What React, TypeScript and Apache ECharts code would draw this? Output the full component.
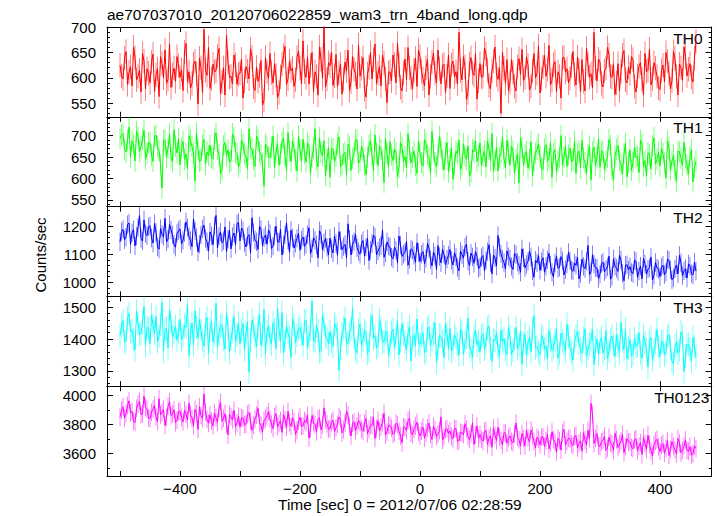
import React, { useEffect, useRef } from "react";
import * as echarts from "echarts";

const TITLE = "ae707037010_20120706022859_wam3_trn_4band_long.qdp";
const X_NAME = "Time [sec] 0 = 2012/07/06 02:28:59";
const Y_NAME = "Counts/sec";

// time bins (sec from 2012/07/06 02:28:59): "A" bins start at -500 s, "B" bins at -497.5 s, both every 5 s
const TIME_START_A = -500;
const TIME_START_B = -497.5;
const TIME_STEP = 5;

const th0A = [
  625, 598, 652, 611, 584, 640, 603, 572, 633, 618,
  590, 647, 606, 563, 628, 655, 597, 581, 619, 642,
  601, 575, 668, 612, 589, 633, 548, 620, 696, 605,
  579, 627, 614, 658, 592, 566, 631, 603, 645, 587,
  609, 560, 622, 598, 641, 575, 593, 634, 556, 612,
  648, 590, 605, 571, 627, 662, 598, 614, 583, 640,
  619, 673, 601, 588, 650, 612, 566, 637, 702, 597,
  624, 585, 646, 610, 568, 631, 655, 592, 617, 578,
  603, 640, 562, 621, 598, 667, 609, 584, 629, 551,
  612, 645, 590, 626, 574, 637, 660, 600, 615, 583,
  642, 598, 620, 566, 631, 609, 655, 588, 627, 604,
  579, 633, 612, 690, 596, 622, 571, 640, 605, 558,
  628, 603, 647, 585, 614, 661, 597, 530, 619, 636,
  592, 611, 574, 638, 656, 601, 625, 583, 648, 609,
  570, 621, 603, 664, 595, 632, 612, 560, 641, 618,
  599, 652, 586, 615, 636, 574, 627, 608, 690, 594,
  631, 582, 619, 645, 601, 567, 628, 613, 654, 590,
  608, 636, 572, 623, 597, 648, 615, 586, 630, 603,
  577, 625, 650, 609, 594, 638, 566, 620, 661, 604,
  628, 592, 672,
];
const th0B = [
  604, 639, 587, 622, 661, 596, 615, 648, 578, 609,
  631, 573, 618, 642, 600, 589, 667, 606, 593, 624,
  616, 651, 593, 580, 627, 608, 639, 571, 615, 660,
  598, 612, 643, 569, 620, 684, 601, 588, 626, 607,
  637, 594, 613, 657, 582, 621, 605, 546, 640, 599,
  610, 628, 561, 602, 644, 587, 633, 619, 596, 653,
  588, 612, 641, 624, 573, 603, 661, 599, 582, 630,
  651, 604, 582, 627, 597, 614, 575, 642, 608, 665,
  619, 577, 608, 650, 636, 589, 622, 645, 598, 610,
  594, 626, 668, 581, 609, 596, 620, 578, 639, 655,
  613, 584, 637, 603, 649, 590, 618, 624, 571, 645,
  626, 602, 588, 614, 642, 557, 627, 610, 648, 594,
  601, 659, 615, 578, 633, 606, 620, 651, 589, 574,
  636, 583, 622, 607, 595, 641, 576, 614, 600, 663,
  598, 645, 617, 586, 626, 573, 603, 639, 611, 590,
  624, 606, 641, 572, 593, 658, 601, 580, 619, 637,
  589, 614, 660, 603, 628, 590, 575, 645, 596, 621,
  642, 583, 604, 630, 566, 612, 657, 598, 619, 580,
  614, 592, 633, 578, 652, 603, 627, 595, 642, 617,
  601, 639,
];

const th1A = [
  693, 705, 662, 720, 688, 641, 697, 674, 712, 659,
  683, 640, 701, 665, 578, 690, 671, 648, 714, 660,
  632, 686, 657, 700, 675, 594, 668, 643, 691, 662,
  678, 645, 707, 656, 620, 684, 667, 641, 695, 658,
  637, 680, 652, 716, 669, 628, 690, 655, 582, 674,
  648, 699, 663, 631, 685, 654, 707, 640, 672, 617,
  666, 692, 639, 675, 650, 716, 627, 661, 688, 644,
  603, 670, 652, 697, 633, 661, 680, 619, 658, 690,
  641, 664, 609, 678, 655, 702, 630, 667, 591, 659,
  686, 642, 660, 625, 673, 651, 705, 636, 664, 612,
  660, 629, 682, 648, 710, 637, 655, 671, 620, 684,
  645, 598, 664, 690, 632, 653, 676, 615, 662, 640,
  683, 652, 627, 669, 705, 641, 618, 660, 647, 690,
  631, 664, 644, 590, 672, 655, 624, 686, 640, 668,
  652, 621, 679, 646, 603, 667, 639, 700, 650, 628,
  671, 643, 612, 664, 689, 637, 655, 596, 673, 648,
  626, 662, 640, 691, 619, 653, 677, 634, 658, 604,
  667, 638, 649, 614, 680, 642, 660, 622, 695, 645,
  629, 658, 601, 672, 640, 618, 664, 647, 685, 632,
  651, 592, 640,
];
const th1B = [
  701, 668, 690, 651, 679, 710, 663, 692, 645, 684,
  655, 699, 674, 632, 688, 650, 704, 639, 676, 693,
  671, 645, 622, 689, 658, 706, 640, 679, 633, 654,
  649, 692, 669, 611, 676, 653, 638, 704, 661, 627,
  690, 658, 623, 671, 645, 699, 662, 634, 680, 651,
  672, 625, 681, 657, 694, 619, 665, 688, 643, 699,
  640, 658, 683, 612, 670, 644, 695, 653, 607, 672,
  668, 639, 682, 628, 657, 609, 673, 647, 690, 636,
  675, 631, 650, 689, 618, 660, 676, 642, 694, 627,
  655, 669, 604, 684, 640, 625, 668, 650, 631, 688,
  637, 691, 654, 612, 666, 628, 698, 643, 660, 615,
  672, 633, 658, 620, 681, 645, 606, 667, 689, 653,
  630, 664, 688, 641, 619, 673, 650, 697, 625, 661,
  676, 612, 657, 694, 632, 663, 644, 606, 659, 681,
  623, 669, 640, 684, 659, 617, 650, 631, 674, 655,
  639, 687, 658, 625, 648, 611, 676, 662, 630, 693,
  664, 621, 650, 676, 597, 668, 643, 610, 682, 637,
  619, 673, 652, 690, 628, 606, 655, 677, 634, 661,
  670, 636, 688, 620, 655, 593, 662, 631, 649, 610,
  668, 626,
];

const th2A = [
  1145, 1190, 1162, 1213, 1178, 1131, 1196, 1157, 1224, 1168,
  1203, 1141, 1180, 1119, 1172, 1230, 1155, 1188, 1136, 1176,
  1192, 1150, 1217, 1163, 1128, 1184, 1109, 1170, 1205, 1146,
  1181, 1135, 1240, 1166, 1142, 1199, 1155, 1120, 1177, 1210,
  1149, 1186, 1127, 1171, 1232, 1153, 1118, 1190, 1160, 1137,
  1175, 1130, 1202, 1144, 1098, 1169, 1151, 1187, 1123, 1158,
  1115, 1163, 1137, 1196, 1121, 1150, 1088, 1172, 1143, 1126,
  1159, 1105, 1140, 1182, 1117, 1136, 1210, 1098, 1146, 1124,
  1101, 1150, 1126, 1078, 1139, 1163, 1112, 1131, 1090, 1145,
  1127, 1084, 1115, 1166, 1093, 1108, 1061, 1120, 1097, 1142,
  1074, 1110, 1086, 1123, 1059, 1095, 1132, 1070, 1101, 1083,
  1118, 1062, 1090, 1041, 1099, 1127, 1076, 1105, 1068, 1093,
  1055, 1096, 1079, 1135, 1030, 1087, 1168, 1102, 1071, 1113,
  1084, 1046, 1099, 1061, 1120, 1052, 1075, 1091, 1018, 1070,
  1043, 1088, 1057, 1104, 1035, 1069, 1050, 1092, 1026, 1066,
  1078, 1040, 1061, 1012, 1083, 1049, 1132, 1037, 1065, 1051,
  1029, 1072, 1046, 1094, 1021, 1058, 1039, 1080, 1005, 1063,
  1056, 1031, 1075, 1040, 1012, 1066, 1047, 1090, 1025, 1051,
  1020, 1061, 1036, 1079, 1009, 1048, 1030, 1070, 1041, 1015,
  1058, 1026, 1040,
];
const th2B = [
  1182, 1153, 1207, 1136, 1189, 1166, 1240, 1148, 1175, 1199,
  1159, 1211, 1127, 1193, 1164, 1145, 1208, 1170, 1126, 1185,
  1138, 1179, 1196, 1150, 1228, 1161, 1137, 1192, 1157, 1112,
  1167, 1202, 1123, 1181, 1150, 1110, 1187, 1164, 1135, 1215,
  1195, 1141, 1164, 1105, 1178, 1145, 1201, 1132, 1170, 1188,
  1121, 1166, 1145, 1190, 1135, 1214, 1108, 1159, 1140, 1176,
  1152, 1129, 1171, 1103, 1160, 1135, 1185, 1116, 1157, 1098,
  1120, 1165, 1097, 1150, 1128, 1088, 1155, 1137, 1173, 1110,
  1138, 1094, 1157, 1115, 1169, 1098, 1125, 1188, 1105, 1130,
  1090, 1126, 1070, 1134, 1101, 1147, 1082, 1115, 1072, 1108,
  1101, 1066, 1140, 1081, 1109, 1046, 1092, 1118, 1062, 1097,
  1078, 1106, 1053, 1112, 1086, 1136, 1059, 1091, 1110, 1049,
  1089, 1041, 1110, 1070, 1098, 1058, 1125, 1083, 1048, 1092,
  1057, 1103, 1072, 1036, 1088, 1064, 1111, 1041, 1079, 1096,
  1074, 1036, 1081, 1062, 1019, 1093, 1054, 1077, 1045, 1107,
  1044, 1069, 1090, 1031, 1057, 1075, 1028, 1099, 1052, 1013,
  1067, 1038, 1055, 1011, 1084, 1050, 1097, 1032, 1061, 1044,
  1035, 1079, 1018, 1058, 1086, 1029, 1052, 1008, 1071, 1046,
  1054, 1027, 1083, 1045, 1016, 1062, 1097, 1023, 1049, 1066,
  1031, 1072,
];

const th3A = [
  1412, 1458, 1395, 1481, 1427, 1366, 1449, 1418, 1502, 1437,
  1385, 1443, 1470, 1409, 1516, 1430, 1372, 1455, 1421, 1396,
  1462, 1410, 1437, 1348, 1450, 1489, 1403, 1426, 1378, 1468,
  1430, 1391, 1512, 1417, 1445, 1368, 1436, 1400, 1471, 1414,
  1385, 1448, 1421, 1296, 1460, 1409, 1437, 1380, 1493, 1424,
  1402, 1451, 1370, 1429, 1483, 1395, 1418, 1342, 1445, 1410,
  1437, 1381, 1459, 1406, 1520, 1392, 1426, 1364, 1448, 1401,
  1423, 1377, 1440, 1301, 1415, 1466, 1389, 1432, 1405, 1357,
  1448, 1398, 1419, 1363, 1474, 1411, 1380, 1436, 1392, 1425,
  1376, 1431, 1405, 1350, 1447, 1390, 1418, 1331, 1412, 1463,
  1384, 1420, 1362, 1438, 1399, 1451, 1371, 1408, 1342, 1416,
  1433, 1375, 1402, 1349, 1421, 1392, 1466, 1366, 1410, 1381,
  1359, 1417, 1388, 1441, 1330, 1395, 1373, 1428, 1401, 1352,
  1409, 1366, 1437, 1382, 1321, 1415, 1390, 1359, 1474, 1377,
  1351, 1403, 1379, 1426, 1364, 1396, 1340, 1418, 1385, 1447,
  1372, 1334, 1410, 1388, 1356, 1432, 1369, 1398, 1319, 1401,
  1391, 1355, 1427, 1362, 1409, 1346, 1380, 1453, 1367, 1338,
  1398, 1351, 1376, 1420, 1340, 1389, 1312, 1405, 1364, 1431,
  1345, 1392, 1361, 1414, 1330, 1377, 1356, 1423, 1298, 1383,
  1369, 1405, 1342,
];
const th3B = [
  1441, 1389, 1466, 1424, 1398, 1487, 1415, 1452, 1380, 1433,
  1476, 1417, 1392, 1445, 1361, 1434, 1491, 1406, 1440, 1422,
  1397, 1443, 1509, 1415, 1382, 1438, 1463, 1395, 1447, 1356,
  1455, 1418, 1374, 1440, 1399, 1483, 1359, 1428, 1392, 1450,
  1427, 1365, 1452, 1398, 1436, 1375, 1479, 1412, 1353, 1441,
  1384, 1427, 1498, 1393, 1356, 1440, 1403, 1465, 1388, 1431,
  1415, 1456, 1373, 1430, 1398, 1442, 1359, 1476, 1410, 1385,
  1392, 1448, 1415, 1370, 1436, 1383, 1420, 1497, 1366, 1429,
  1380, 1427, 1355, 1445, 1402, 1372, 1461, 1391, 1418, 1349,
  1421, 1372, 1458, 1394, 1417, 1366, 1440, 1404, 1379, 1386,
  1409, 1357, 1433, 1380, 1418, 1326, 1412, 1391, 1448, 1370,
  1362, 1414, 1384, 1432, 1353, 1405, 1377, 1343, 1428, 1395,
  1410, 1368, 1435, 1371, 1398, 1420, 1344, 1393, 1366, 1437,
  1351, 1398, 1369, 1426, 1387, 1346, 1405, 1431, 1372, 1360,
  1412, 1369, 1338, 1397, 1375, 1430, 1356, 1394, 1362, 1409,
  1357, 1393, 1425, 1367, 1402, 1345, 1383, 1430, 1374, 1352,
  1406, 1370, 1339, 1397, 1381, 1415, 1357, 1395, 1432, 1372,
  1346, 1403, 1381, 1357, 1412, 1368, 1393, 1336, 1388, 1376,
  1392, 1350, 1408, 1372, 1322, 1391, 1365, 1409, 1347, 1384,
  1330, 1376,
];

const th0123A = [
  3850, 3921, 3874, 3962, 3889, 3812, 3940, 3866, 3995, 3903,
  3838, 3905, 3851, 3976, 3880, 3793, 3924, 3860, 3901, 3828,
  3889, 3817, 3870, 3946, 3842, 3903, 3765, 3861, 4010, 3834,
  3866, 3790, 3845, 3911, 3821, 3873, 3727, 3852, 3898, 3810,
  3780, 3842, 3801, 3880, 3758, 3836, 3910, 3795, 3827, 3859,
  3836, 3771, 3874, 3805, 3744, 3831, 3890, 3786, 3819, 3760,
  3848, 3789, 3813, 3705, 3860, 3797, 3835, 3762, 3914, 3803,
  3770, 3829, 3776, 3851, 3741, 3806, 3862, 3720, 3818, 3789,
  3811, 3753, 3840, 3767, 3795, 3702, 3826, 3781, 3876, 3748,
  3790, 3731, 3808, 3752, 3673, 3779, 3825, 3740, 3766, 3815,
  3720, 3781, 3742, 3809, 3694, 3760, 3733, 3852, 3715, 3770,
  3755, 3701, 3769, 3688, 3742, 3804, 3716, 3736, 3662, 3790,
  3731, 3684, 3758, 3705, 3642, 3726, 3781, 3690, 3744, 3669,
  3720, 3673, 3810, 3695, 3737, 3651, 3706, 3762, 3682, 3711,
  3659, 3714, 3690, 3631, 3748, 3677, 3703, 3622, 3765, 3684,
  3702, 3655, 3724, 3670, 3615, 3693, 3759, 3945, 3668, 3736,
  3649, 3691, 3620, 3712, 3663, 3738, 3641, 3685, 3605, 3702,
  3679, 3633, 3701, 3650, 3592, 3668, 3725, 3618, 3660, 3697,
  3612, 3668, 3634, 3585, 3681, 3625, 3702, 3603, 3650, 3619,
  3646, 3598, 3633,
];
const th0123B = [
  3897, 3843, 3930, 3878, 3822, 3911, 3958, 3871, 3917, 3845,
  3884, 3932, 3819, 3866, 3903, 3848, 3957, 3871, 3812, 3890,
  3847, 3898, 3830, 3866, 3790, 3875, 3921, 3841, 3884, 3808,
  3823, 3879, 3814, 3950, 3842, 3801, 3868, 3830, 3785, 3856,
  3846, 3799, 3870, 3825, 3793, 3864, 3812, 3748, 3841, 3887,
  3801, 3852, 3783, 3826, 3869, 3779, 3812, 3845, 3731, 3822,
  3787, 3826, 3862, 3770, 3812, 3749, 3845, 3798, 3831, 3768,
  3812, 3751, 3800, 3835, 3764, 3890, 3785, 3808, 3757, 3826,
  3766, 3808, 3735, 3792, 3851, 3770, 3755, 3813, 3726, 3795,
  3773, 3742, 3798, 3719, 3781, 3757, 3843, 3728, 3789, 3746,
  3753, 3705, 3774, 3729, 3787, 3716, 3758, 3691, 3764, 3735,
  3716, 3772, 3683, 3745, 3729, 3768, 3695, 3811, 3724, 3703,
  3698, 3751, 3662, 3720, 3775, 3689, 3713, 3659, 3738, 3706,
  3681, 3734, 3711, 3650, 3703, 3759, 3677, 3724, 3638, 3696,
  3711, 3648, 3730, 3672, 3694, 3609, 3688, 3741, 3657, 3703,
  3664, 3716, 3637, 3688, 3742, 3659, 3700, 3870, 3702, 3651,
  3680, 3718, 3635, 3672, 3620, 3694, 3662, 3731, 3648, 3679,
  3641, 3692, 3618, 3674, 3709, 3628, 3662, 3583, 3684, 3645,
  3657, 3601, 3689, 3628, 3648, 3596, 3671, 3622, 3692, 3615,
  3588, 3652,
];

const bandNames = ["TH0", "TH1", "TH2", "TH3", "TH0123"];
const bandValuesA = [th0A, th1A, th2A, th3A, th0123A];
const bandValuesB = [th0B, th1B, th2B, th3B, th0123B];
const bandErrors = [24, 25, 33, 37, 61];
const bandColors = ["#ff0000", "#00ff00", "#0000ff", "#00ffff", "#ff00ff"];
const bandErrColors = [
  "rgba(255,0,0,0.5)",
  "rgba(0,255,0,0.5)",
  "rgba(0,0,255,0.5)",
  "rgba(0,255,255,0.5)",
  "rgba(255,0,255,0.5)",
];
const yMins = [523, 534.5, 949, 1252, 3444];
const yMaxs = [700.5, 744, 1272, 1534, 4063];
const yLabelValues = [
  [550, 600, 650, 700],
  [550, 600, 650, 700],
  [1000, 1100, 1200],
  [1300, 1400, 1500],
  [3600, 3800, 4000],
];
const yMinorSteps = [10, 10, 20, 20, 100];
const xTickValues = [-500, -400, -300, -200, -100, 0, 100, 200, 300, 400];
const xLabelValues = [-400, -200, 0, 200, 400];
const X_MIN = -521.7;
const X_MAX = 486.2;

const FONT = "'Liberation Sans', Arial, Helvetica, sans-serif";

function buildSeriesData(a: number[], b: number[]) {
  const out: number[][] = [];
  for (let k = 0; k < a.length; k++) {
    out.push([TIME_START_A + k * TIME_STEP, a[k]]);
    if (k < b.length) out.push([TIME_START_B + k * TIME_STEP, b[k]]);
  }
  return out;
}

export default function App() {
  const ref = useRef<HTMLDivElement>(null);

  useEffect(() => {
    if (!ref.current) return;
    const chart = echarts.init(ref.current, undefined, { renderer: "svg" });

    const GRID_LEFT = 107;
    const GRID_RIGHT = 717 - 711.7;
    const TOP0 = 27;
    const PANEL_H = 89.8;

    const grids: any[] = [];
    const xAxes: any[] = [];
    const yAxes: any[] = [];
    const series: any[] = [];
    const graphics: any[] = [];
    const lineStyle = { color: "#000", width: 1 };

    bandNames.forEach((name, i) => {
      const top = TOP0 + i * PANEL_H;
      grids.push({
        left: GRID_LEFT,
        right: GRID_RIGHT,
        top,
        height: PANEL_H,
        outerBoundsMode: "none",
        containLabel: false,
      });
      const isLast = i === bandNames.length - 1;
      ["bottom", "top"].forEach((pos) => {
        xAxes.push({
          gridIndex: i,
          type: "value",
          position: pos,
          min: X_MIN,
          max: X_MAX,
          axisLine: { show: true, onZero: false, lineStyle },
          axisTick: {
            show: true,
            inside: true,
            length: 5,
            customValues: xTickValues,
            lineStyle,
          },
          axisLabel: {
            show: isLast && pos === "bottom",
            customValues: xLabelValues,
            margin: 5,
            fontSize: 15,
            fontFamily: FONT,
            color: "#000",
            formatter: (v: number) => String(v).replace("-", "\u2212"),
          },
          splitLine: { show: false },
        });
      });
      const minors: number[] = [];
      const st = yMinorSteps[i];
      for (let v = Math.ceil(yMins[i] / st) * st; v <= yMaxs[i]; v += st) {
        if (!yLabelValues[i].includes(v)) minors.push(v);
      }
      ["left", "right"].forEach((pos) => {
        yAxes.push({
          gridIndex: i,
          type: "value",
          position: pos,
          min: yMins[i],
          max: yMaxs[i],
          axisLine: { show: true, onZero: false, lineStyle },
          axisTick: {
            show: true,
            inside: true,
            length: 6,
            customValues: yLabelValues[i],
            lineStyle,
          },
          axisLabel: {
            show: pos === "left",
            customValues: yLabelValues[i],
            margin: 11,
            fontSize: 15,
            fontFamily: FONT,
            color: "#000",
            formatter: (v: number) => String(v),
          },
          splitLine: { show: false },
        });
        yAxes.push({
          gridIndex: i,
          type: "value",
          position: pos,
          min: yMins[i],
          max: yMaxs[i],
          axisLine: { show: false, onZero: false },
          axisTick: {
            show: true,
            inside: true,
            length: 3,
            customValues: minors,
            lineStyle,
          },
          axisLabel: { show: false },
          splitLine: { show: false },
        });
      });

      const data = buildSeriesData(bandValuesA[i], bandValuesB[i]);
      const err = bandErrors[i];
      const errColor = bandErrColors[i];
      series.push({
        type: "custom",
        xAxisIndex: i * 2,
        yAxisIndex: i * 4,
        clip: true,
        silent: true,
        z: 2,
        data,
        renderItem: (params: any, api: any) => {
          const x = api.value(0);
          const y = api.value(1);
          const p1 = api.coord([x, y - err]);
          const p2 = api.coord([x, y + err]);
          return {
            type: "line",
            shape: { x1: p1[0], y1: p1[1], x2: p2[0], y2: p2[1] },
            style: { stroke: errColor, lineWidth: 1 },
          };
        },
      });
      series.push({
        type: "line",
        xAxisIndex: i * 2,
        yAxisIndex: i * 4,
        data,
        showSymbol: false,
        symbol: "none",
        clip: true,
        silent: true,
        z: 3,
        lineStyle: { width: 1, color: bandColors[i] },
      });

      graphics.push({
        type: "text",
        right: isLast ? 717 - 709.3 : 717 - 702.5,
        top: top + 3,
        style: {
          text: name,
          font: `15.5px ${FONT}`,
          fill: "#000",
        },
      });
    });

    graphics.push({
      type: "text",
      left: 107,
      top: 6,
      style: { text: TITLE, font: `15.5px ${FONT}`, fill: "#000" },
    });
    graphics.push({
      type: "text",
      left: 278,
      top: 496,
      style: { text: X_NAME, font: `15.5px ${FONT}`, fill: "#000" },
    });
    graphics.push({
      type: "text",
      x: 40,
      y: 255,
      rotation: Math.PI / 2,
      style: {
        text: Y_NAME,
        font: `15px ${FONT}`,
        fill: "#000",
        textAlign: "center",
        textVerticalAlign: "middle",
        align: "center",
        verticalAlign: "middle",
      },
    });

    chart.setOption({
      animation: false,
      backgroundColor: "#fff",
      grid: grids,
      xAxis: xAxes,
      yAxis: yAxes,
      series,
      graphic: graphics,
    });

    return () => chart.dispose();
  }, []);

  return (
    <div
      ref={ref}
      style={{ position: "fixed", left: 0, top: 0, width: 717, height: 516, background: "#fff" }}
    />
  );
}
